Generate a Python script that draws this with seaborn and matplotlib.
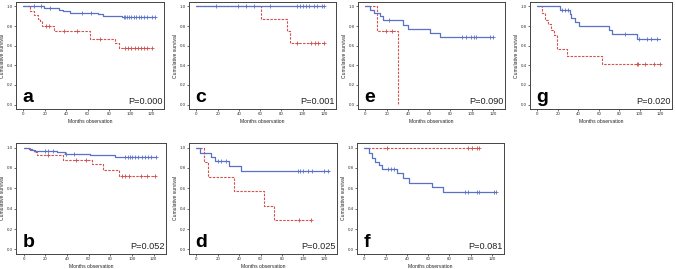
import matplotlib
matplotlib.use("Agg")
import matplotlib.pyplot as plt
import seaborn as sns
import pandas as pd

sns.set_theme(style="white")
plt.rcParams['font.family'] = ['Liberation Sans', 'DejaVu Sans']

# ---------------- data ----------------
a_blue_t = [0, 19, 33, 37, 44, 70, 74, 92, 96, 123]
a_blue_s = [1.0, 0.987, 0.965, 0.95, 0.93, 0.92, 0.905, 0.895, 0.89, 0.89]
a_blue_c = [10, 16, 25, 55, 63, 94, 95, 97, 99, 101, 103, 105, 108, 110, 113, 116, 120, 123]
a_red_t = [0, 6, 10, 13.5, 15.5, 17.7, 28.5, 62, 86, 89, 120]
a_red_s = [1.0, 0.95, 0.91, 0.875, 0.85, 0.80, 0.75, 0.67, 0.63, 0.58, 0.58]
a_red_c = [21, 24, 38, 50, 72, 95, 98, 101, 104, 107, 110, 113, 116, 120]

c_blue_t = [0, 120]
c_blue_s = [1.0, 1.0]
c_blue_c = [18, 39, 46.5, 54.5, 69, 95, 98, 100, 103, 106, 111, 114, 118, 120]
c_red_t = [0, 61, 85, 88, 120]
c_red_s = [1.0, 0.875, 0.75, 0.625, 0.625]
c_red_c = [95, 108, 112, 115, 120]

e_blue_t = [0, 4, 8.5, 13.5, 17, 35, 40, 61, 70.7, 120]
e_blue_s = [1.0, 0.965, 0.93, 0.9, 0.86, 0.815, 0.77, 0.73, 0.69, 0.69]
e_blue_c = [22.5, 91, 95, 99, 102, 104, 117, 120]
e_red_t = [0, 10.5, 30.4, 30.4]
e_red_s = [1.0, 0.75, 0.0, 0.0]
e_red_c = [19.5, 25.5]

g_blue_t = [0, 22.6, 32, 33, 36.5, 41, 70.5, 73, 97, 120]
g_blue_s = [1.0, 0.967, 0.925, 0.88, 0.84, 0.80, 0.76, 0.72, 0.67, 0.67]
g_blue_c = [24, 27, 30, 86, 99, 107, 111, 117]
g_red_t = [0, 4.6, 7.7, 10.8, 13.5, 16.5, 19, 29, 63.4, 120]
g_red_s = [1.0, 0.93, 0.865, 0.82, 0.76, 0.71, 0.57, 0.49, 0.41, 0.41]
g_red_c = [97, 98.5, 105, 114, 120]

b_blue_t = [0, 4.7, 7.5, 11, 14, 31, 38, 61, 84.6, 122]
b_blue_s = [1.0, 0.99, 0.98, 0.97, 0.965, 0.955, 0.94, 0.925, 0.905, 0.905]
b_blue_c = [20, 23, 27, 39, 47, 94, 96, 98, 100, 103, 106, 109, 112, 115, 118, 122]
b_red_t = [0, 6, 9.4, 12.5, 36, 63.6, 73, 88, 121]
b_red_s = [1.0, 0.98, 0.955, 0.925, 0.88, 0.84, 0.78, 0.725, 0.725]
b_red_c = [23, 48, 58, 91, 94, 97, 108, 114, 121]

d_blue_t = [0, 3.4, 13.5, 17.5, 30.7, 42, 124]
d_blue_s = [1.0, 0.95, 0.91, 0.87, 0.82, 0.77, 0.77]
d_blue_c = [20, 23, 28, 95, 97, 100, 104, 108, 119, 123]
d_red_t = [0, 7, 10.5, 35, 63, 72.5, 107.5]
d_red_s = [1.0, 0.857, 0.714, 0.571, 0.429, 0.286, 0.286]
d_red_c = [96, 107.5]

f_blue_t = [0, 4, 7, 10.3, 13.4, 17, 31, 36, 42, 64, 74, 124]
f_blue_s = [1.0, 0.95, 0.90, 0.86, 0.83, 0.79, 0.75, 0.70, 0.655, 0.61, 0.565, 0.565]
f_blue_c = [22, 25, 28, 95, 98, 106, 107.5, 122, 124]
f_red_t = [0, 107.5]
f_red_s = [1.0, 1.0]
f_red_c = [21, 98, 101, 106, 107.5]

letters = ['a', 'c', 'e', 'g', 'b', 'd', 'f']
pvalues = ['P=0.000', 'P=0.001', 'P=0.090', 'P=0.020', 'P=0.052', 'P=0.025', 'P=0.081']
xticks = [0, 20, 40, 60, 80, 100, 120]
yticks = [0.0, 0.2, 0.4, 0.6, 0.8, 1.0]

panels = {
    'a': (a_blue_t, a_blue_s, a_blue_c, a_red_t, a_red_s, a_red_c),
    'c': (c_blue_t, c_blue_s, c_blue_c, c_red_t, c_red_s, c_red_c),
    'e': (e_blue_t, e_blue_s, e_blue_c, e_red_t, e_red_s, e_red_c),
    'g': (g_blue_t, g_blue_s, g_blue_c, g_red_t, g_red_s, g_red_c),
    'b': (b_blue_t, b_blue_s, b_blue_c, b_red_t, b_red_s, b_red_c),
    'd': (d_blue_t, d_blue_s, d_blue_c, d_red_t, d_red_s, d_red_c),
    'f': (f_blue_t, f_blue_s, f_blue_c, f_red_t, f_red_s, f_red_c),
}

# ---------------- layout ----------------
W, H = 676, 269
boxes = {  # left, right, top, bottom in pixels
    'a': (16, 164, 2, 109), 'c': (189, 336, 2, 109),
    'e': (358, 505, 2, 109), 'g': (530, 672, 2, 109),
    'b': (16, 166, 143, 254), 'd': (189, 337, 143, 254),
    'f': (357, 504, 143, 254),
}

BLUE = '#5a72c6'
RED = '#d2504e'


def step_at(ts, ss, c):
    val = ss[0]
    for t, s in zip(ts, ss):
        if t <= c:
            val = s
    return val


fig = plt.figure(figsize=(W / 100, H / 100), dpi=100)
fig.patch.set_facecolor('white')

for letter, pv in zip(letters, pvalues):
    l, r, t, b = boxes[letter]
    ax = fig.add_axes([l / W, 1 - b / H, (r - l) / W, (b - t) / H])
    bt, bs, bc, rt, rs, rc = panels[letter]

    dfb = pd.DataFrame({'t': bt, 's': bs})
    dfr = pd.DataFrame({'t': rt, 's': rs})
    sns.lineplot(data=dfr, x='t', y='s', ax=ax, estimator=None, sort=False,
                 drawstyle='steps-post', color=RED, lw=0.8, linestyle=(0, (2.2, 1.2)))
    sns.lineplot(data=dfb, x='t', y='s', ax=ax, estimator=None, sort=False,
                 drawstyle='steps-post', color=BLUE, lw=0.9)

    cb = pd.DataFrame({'t': bc, 's': [step_at(bt, bs, c) for c in bc]})
    cr = pd.DataFrame({'t': rc, 's': [step_at(rt, rs, c) for c in rc]})
    sns.scatterplot(data=cr, x='t', y='s', ax=ax, marker='+', color=RED,
                    s=12, linewidth=0.6)
    sns.scatterplot(data=cb, x='t', y='s', ax=ax, marker='+', color=BLUE,
                    s=12, linewidth=0.6)

    ax.set_xlim(-7, 131.5)
    ax.set_ylim(-0.045, 1.045)
    ax.set_xticks(xticks)
    ax.set_xticklabels([str(v) for v in xticks])
    ax.set_yticks(yticks)
    ax.set_yticklabels([f'{v:.1f}' for v in yticks])
    ax.tick_params(axis='both', which='both', length=1.5, width=0.5, pad=1,
                   labelsize=3.2, colors='#333333', left=True, bottom=True)
    for sp in ax.spines.values():
        sp.set_color('#444444')
        sp.set_linewidth(0.7)
    ax.set_xlabel('Months observation', fontsize=3.6, labelpad=1.8, color='#222222')
    ax.set_ylabel('Cumulative survival', fontsize=3.6, labelpad=0.8, color='#222222')

    ax.text(0.045, 0.025, letter, transform=ax.transAxes, fontsize=14,
            fontweight='bold', ha='left', va='bottom', color='black')
    ax.text(0.99, 0.03, pv, transform=ax.transAxes, fontsize=6.6,
            ha='right', va='bottom', color='#222222')

fig.savefig('out.png', dpi=100)
